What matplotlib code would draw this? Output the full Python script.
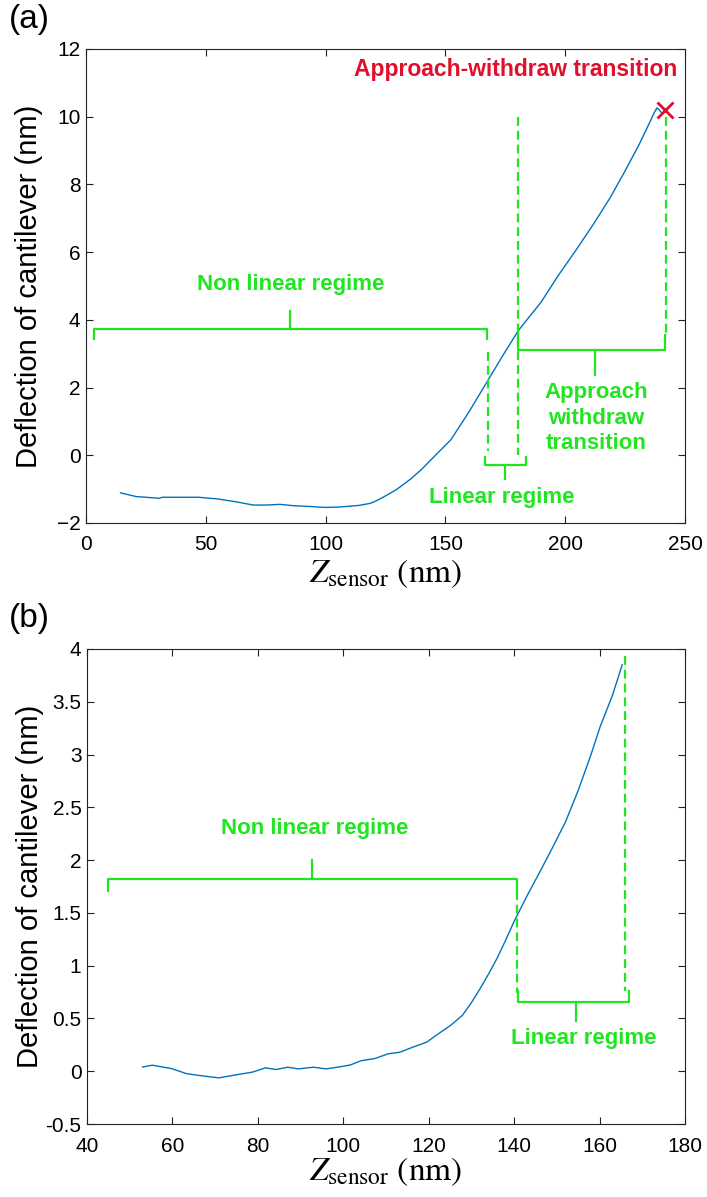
import matplotlib.pyplot as plt

# -------------------------
# Data
# -------------------------
# panel (a): approach curve
z_a = [14.4, 18, 21, 25, 30.4, 32, 40, 47, 55, 62.3, 69.8, 75, 81, 86.7, 93,
       99.8, 105, 109, 114, 118.6, 121, 124, 127, 129.8, 132.5, 135.5, 140, 145,
       152.3, 160, 167.3, 174, 180.5, 189.9, 197, 204.9, 212, 218.7, 225, 231,
       235.4, 237, 238.3, 239.3, 240.4]
defl_a = [-1.11, -1.17, -1.22, -1.24, -1.27, -1.24, -1.24, -1.24, -1.29, -1.37,
          -1.47, -1.47, -1.45, -1.49, -1.51, -1.54, -1.53, -1.51, -1.48, -1.42,
          -1.35, -1.24, -1.12, -1.0, -0.86, -0.70, -0.42, -0.06, 0.46, 1.3,
          2.16, 2.95, 3.69, 4.52, 5.3, 6.1, 6.85, 7.6, 8.4, 9.2, 9.85, 10.1,
          10.26, 10.2, 10.1]

# panel (b): zoom on the lower part
z_b = [53, 55.3, 59.8, 63.2, 65.3, 70.8, 75.8, 78.7, 81.8, 84.2, 87, 89.5, 93,
       96, 100, 101.7, 104.2, 107.4, 110.5, 113.2, 116.3, 119.5, 122.1, 125.3,
       127.9, 130, 132, 134, 136, 138, 140, 143, 146.3, 149, 152, 155, 158,
       160.1, 163, 165.3]
defl_b = [0.04, 0.057, 0.025, -0.022, -0.035, -0.063, -0.028, -0.009, 0.032,
          0.016, 0.038, 0.022, 0.038, 0.022, 0.047, 0.06, 0.10, 0.12, 0.165,
          0.18, 0.228, 0.275, 0.35, 0.44, 0.53, 0.65, 0.78, 0.92, 1.07, 1.24,
          1.42, 1.66, 1.91, 2.12, 2.36, 2.66, 3.0, 3.26, 3.56, 3.85]

# transition point (panel a)
transition_a = (241.5, 10.2)

# regime limits (z, nm)
nonlin_a = (3.2, 167.5)
linear_a = (166.5, 183.5)
approach_a = (180.5, 241.5)
nonlin_b = (44.9, 140.7)
linear_b = (141.0, 167.0)

xticks_a = [0, 50, 100, 150, 200, 250]
yticks_a = [-2, 0, 2, 4, 6, 8, 10, 12]
xticks_b = [40, 60, 80, 100, 120, 140, 160, 180]
yticks_b = [-0.5, 0, 0.5, 1, 1.5, 2, 2.5, 3, 3.5, 4]
yticklabels_b = ['-0.5', '0', '0.5', '1', '1.5', '2', '2.5', '3', '3.5', '4']

BLUE = '#0072BD'
GREEN = '#1fe61f'
RED = '#e0102c'
BOLD = ['Liberation Sans', 'DejaVu Sans']
DASH = (0, (4, 2.2))

plt.rcParams['font.family'] = ['Liberation Sans', 'DejaVu Sans']
plt.rcParams['mathtext.fontset'] = 'stix'


def brace(ax, x0, x1, y, hook, xm, tip):
    # horizontal bracket with end hooks and a centre tick
    ax.plot([x0, x0, x1, x1], [y + hook, y, y, y + hook], color=GREEN, lw=1.6,
            clip_on=False)
    ax.plot([xm, xm], [y, tip], color=GREEN, lw=1.6, clip_on=False)


def style(ax, xlim, ylim, xt, yt, ytl=None, xpad=9):
    ax.set_xlim(*xlim)
    ax.set_ylim(*ylim)
    ax.set_xticks(xt)
    ax.set_yticks(yt)
    if ytl is not None:
        ax.set_yticklabels(ytl)
    ax.tick_params(direction='in', top=True, right=True, length=5, width=0.8,
                   labelsize=15, colors='#222222', labelcolor='black')
    ax.tick_params(axis='x', pad=xpad)
    ax.tick_params(axis='y', pad=4)
    for s in ax.spines.values():
        s.set_color('#222222')
        s.set_linewidth(0.8)
    ax.set_ylabel('Deflection of cantilever (nm)', fontsize=21)
    ax.yaxis.set_label_coords(-0.072, 0.5)
    ax.set_xlabel(r'$Z_{\mathrm{sensor}}\ (\mathrm{nm})$', fontsize=24)


fig = plt.figure(figsize=(7.07, 11.97), dpi=100)
ax_a = fig.add_axes([86 / 707, 1 - 523 / 1197, 599 / 707, 474 / 1197])
ax_b = fig.add_axes([87 / 707, 1 - 1124 / 1197, 598 / 707, 475 / 1197])

# ---- panel (a)
ax_a.plot(z_a, defl_a, color=BLUE, lw=1.0)
style(ax_a, (0, 250), (-2, 12), xticks_a, yticks_a)
ax_a.xaxis.set_label_coords(0.5, -0.072)

ax_a.plot(*transition_a, marker='x', ms=11, mew=2, color=RED)
ax_a.text(246.7, 11.38, 'Approach-withdraw transition', color=RED, fontsize=16.5,
          fontweight='bold', family=BOLD, ha='right', va='center')

brace(ax_a, nonlin_a[0], nonlin_a[1], 3.73, -0.29, 85.2, 4.25)
ax_a.text(85.4, 5.03, 'Non linear regime', color=GREEN, fontsize=16,
          fontweight='bold', family=BOLD, ha='center', va='center')

ax_a.plot([linear_a[0] + 1.2] * 2, [3.05, 0.12], color=GREEN, lw=1.6, ls=DASH)
ax_a.plot([approach_a[0]] * 2, [10.0, 0.0], color=GREEN, lw=1.6, ls=DASH)
ax_a.plot([approach_a[1] + 0.5] * 2, [10.0, 3.59], color=GREEN, lw=1.6, ls=DASH)

brace(ax_a, linear_a[0], linear_a[1], -0.28, 0.23, 174.9, -0.69)
ax_a.text(173.5, -1.24, 'Linear regime', color=GREEN, fontsize=16,
          fontweight='bold', family=BOLD, ha='center', va='center')

ax_a.plot([approach_a[0], approach_a[0], approach_a[1], approach_a[1]],
          [3.69, 3.12, 3.12, 3.56], color=GREEN, lw=1.6)
ax_a.plot([212.4, 212.4], [3.12, 2.38], color=GREEN, lw=1.6)
ax_a.text(212.8, 1.1, 'Approach\nwithdraw\ntransition', color=GREEN,
          fontsize=16, fontweight='bold', family=BOLD, ha='center',
          va='center', linespacing=1.3)

# ---- panel (b)
ax_b.plot(z_b, defl_b, color=BLUE, lw=1.0)
style(ax_b, (40, 180), (-0.5, 4), xticks_b, yticks_b, yticklabels_b, xpad=9)
ax_b.xaxis.set_label_coords(0.5, -0.066)

brace(ax_b, nonlin_b[0], nonlin_b[1], 1.82, -0.11, 92.6, 2.0)
ax_b.text(93.2, 2.30, 'Non linear regime', color=GREEN, fontsize=16,
          fontweight='bold', family=BOLD, ha='center', va='center')
ax_b.plot([nonlin_b[1]] * 2, [1.71, 0.74], color=GREEN, lw=1.6, ls=DASH)
ax_b.plot([linear_b[1] - 1.0] * 2, [3.93, 0.76], color=GREEN, lw=1.6, ls=DASH)
brace(ax_b, linear_b[0], linear_b[1], 0.66, 0.10, 154.5, 0.475)
ax_b.text(156.3, 0.307, 'Linear regime', color=GREEN, fontsize=16,
          fontweight='bold', family=BOLD, ha='center', va='center')

fig.text(0.012, 1 - 4 / 1197, '(a)', fontsize=24, va='top', ha='left')
fig.text(0.012, 1 - 603 / 1197, '(b)', fontsize=24, va='top', ha='left')

fig.savefig('out.png', dpi=100)
